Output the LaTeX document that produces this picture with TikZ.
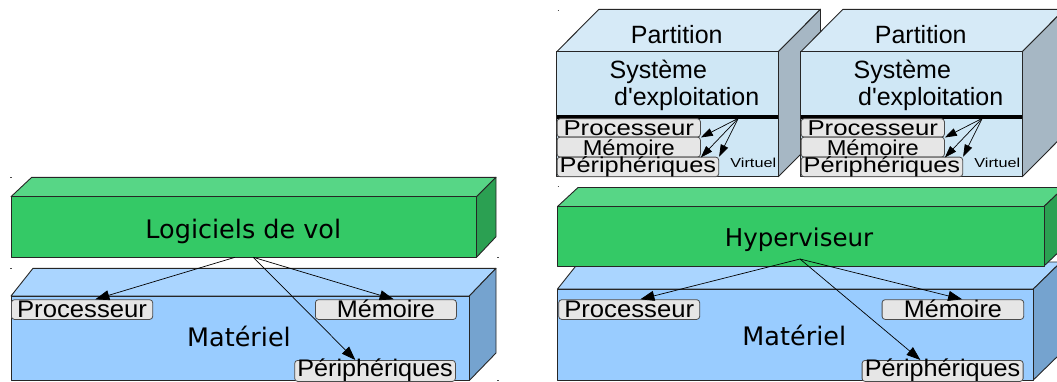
\documentclass[tikz,border=0pt]{standalone}
\usepackage{graphicx}
\usepackage{fontspec}
\setmainfont{Liberation Sans}
\newfontfamily\dejavu{DejaVu Sans}
\usetikzlibrary{arrows.meta}

\definecolor{greenF}{RGB}{52,201,102}
\definecolor{greenT}{RGB}{87,214,134}
\definecolor{greenS}{RGB}{43,160,82}
\definecolor{blueF}{RGB}{153,204,255}
\definecolor{blueT}{RGB}{170,213,255}
\definecolor{blueS}{RGB}{117,163,207}
\definecolor{partF}{RGB}{207,231,245}
\definecolor{partT}{RGB}{214,234,247}
\definecolor{partS}{RGB}{166,183,196}
\definecolor{lblgray}{RGB}{230,230,230}

\begin{document}
\begin{tikzpicture}[x=1pt,y=-1pt,
  face/.style={draw=black!85,line width=0.9pt,line join=round},
  lbl/.style={draw=black!70,fill=lblgray,rounded corners=3pt,inner sep=0pt,
    anchor=north west,line width=0.8pt},
  hwlbl/.style={lbl,text height=17.4pt,text depth=2.3pt,font=\fontsize{24}{28}\selectfont},
  vlbl/.style={lbl,font=\fontsize{21.5}{24}\selectfont},
  big/.style={font=\dejavu\fontsize{25.5}{30}\selectfont,anchor=base},
  txt/.style={font=\fontsize{25}{30}\selectfont,anchor=base},
  arr/.style={-{Triangle[length=14pt,width=10pt]},line width=0.7pt},
  varr/.style={-{Triangle[length=12pt,width=8pt]},line width=0.7pt},
  tick/.style={line width=1pt,black!70}]

\useasboundingbox (0,0) rectangle (1057,381);
\clip (0,0) rectangle (1057,381);

% left: without hypervisor
\filldraw[face,fill=blueT] (11,296)--(33,268.3)--(496,268.3)--(469.3,296)--cycle;
\filldraw[face,fill=blueS] (469.3,296)--(496,268.3)--(496,353)--(469.3,380.5)--cycle;
\filldraw[face,fill=blueF] (11,296) rectangle (469.3,380.5);
\filldraw[face,fill=greenT] (11,196.7)--(31.7,177.3)--(496,177.3)--(476.5,196.7)--cycle;
\filldraw[face,fill=greenS] (476.5,196.7)--(496,177.3)--(496,236.7)--(476.5,257.3)--cycle;
\filldraw[face,fill=greenF] (11,196.7) rectangle (476.5,257.3);

\node[big] (sw) at (243.3,238.3) {Logiciels de vol};
\node[big] (hw1) at (239,346.7) {Matériel};
\node[hwlbl,minimum width=141.3pt] (proc1) at (11,299.3) {\scalebox{1.07}[1]{Processeur}};
\node[hwlbl,minimum width=141pt] (mem1) at (315,299.3) {\scalebox{1.05}[1]{Mémoire}};
\node[hwlbl,minimum width=160.7pt,text height=16pt,text depth=5pt] (per1) at (294.3,360) {\scalebox{1.05}[1]{Périphériques}};

\coordinate (ls1) at (235,257.3);
\coordinate (ls2) at (253.3,257.3);
\draw[arr] (ls1) -- ([xshift=13.3pt]proc1.north);
\draw[arr] (ls2) -- ([xshift=7.8pt]mem1.north);
\draw[arr] (ls2) -- ([xshift=-19.7pt]per1.north);

% right: with hypervisor
\filldraw[face,fill=blueT] (557.5,289)--(579,262)--(1061,262)--(1033.3,289)--cycle;
\filldraw[face,fill=blueS] (1033.3,289)--(1061,262)--(1061,353)--(1033.3,380)--cycle;
\filldraw[face,fill=blueF] (557.5,289) rectangle (1033.3,380);
\filldraw[face,fill=greenT] (557.5,206.5)--(578,187.5)--(1064,187.5)--(1044,206.5)--cycle;
\filldraw[face,fill=greenS] (1044,206.5)--(1064,187.5)--(1064,247)--(1044,266)--cycle;
\filldraw[face,fill=greenF] (557.5,206.5) rectangle (1044,266);

\node[big,font=\dejavu\fontsize{24.5}{30}\selectfont] (hyp) at (799,246.7) {Hyperviseur};
\node[big] (hw2) at (794.3,345) {Matériel};
\node[hwlbl,minimum width=141pt] (proc2) at (558.3,299.3) {\scalebox{1.07}[1]{Processeur}};
\node[hwlbl,minimum width=141.6pt] (mem2) at (881.7,299.3) {\scalebox{1.05}[1]{Mémoire}};
\node[hwlbl,minimum width=161pt,text height=16pt,text depth=5pt] (per2) at (861.7,360) {\scalebox{1.05}[1]{Périphériques}};

\coordinate (hv) at (800,259);
\draw[arr] (hv) -- ([xshift=11.2pt]proc2.north);
\draw[arr] (hv) -- ([xshift=9.2pt]mem2.north);
\draw[arr] (hv) -- ([xshift=-22.2pt]per2.north);

% partitions
\foreach \k/\n in {0/a,244/b}{
  \filldraw[face,fill=partT] (556.7+\k,51.7)--(599+\k,9.3)--(820.5+\k,9.3)--(778.3+\k,51.7)--cycle;
  \filldraw[face,fill=partS] (778.3+\k,51.7)--(820.5+\k,9.3)--(820.5+\k,134.3)--(778.3+\k,176.7)--cycle;
  \filldraw[face,fill=partF] (556.7+\k,51.7) rectangle (778.3+\k,176.7);
  \draw[line width=4pt] (556.7+\k,116.7) -- (778.3+\k,116.7);
  \node[txt] (part\n) at (676.7+\k,43.3) {Partition};
  \node[txt] (os\n) at (658.3+\k,78.3) {Système};
  \node[txt] (os2\n) at (686.7+\k,105) {d\textquotesingle exploitation};
  \node[font=\fontsize{13}{15}\selectfont] (virt\n) at (753.3+\k,162.5) {\scalebox{1.25}[1]{Virtuel}};
  \node[vlbl,minimum width=143.3pt,text height=16.7pt,text depth=1.7pt] (proc\n) at (556.7+\k,118.3) {\scalebox{1.2}[1]{Processeur}};
  \node[vlbl,minimum width=143.3pt,text height=18.3pt,text depth=1.7pt] (mem\n) at (556.7+\k,136.7) {\scalebox{1.1}[1]{Mémoire}};
  \node[vlbl,minimum width=161.6pt,text height=15pt,text depth=4.6pt] (per\n) at (556.7+\k,156.7) {\scalebox{1.18}[1]{Périphériques}};
  \coordinate (src\n) at (738.3+\k,118.3);
  \draw[varr] (src\n) -- (proc\n.south east);
  \draw[varr] (src\n) -- (mem\n.south east);
  \draw[varr] (src\n) -- (per\n.north east);
}

% small corner marks
\foreach \p in {(10,177.3),(10,268.3),(497.3,257.3),(497.3,380),(557.5,10),(557.5,186)}
  \draw[tick] \p -- ++(1.5,0);
\end{tikzpicture}
\end{document}
